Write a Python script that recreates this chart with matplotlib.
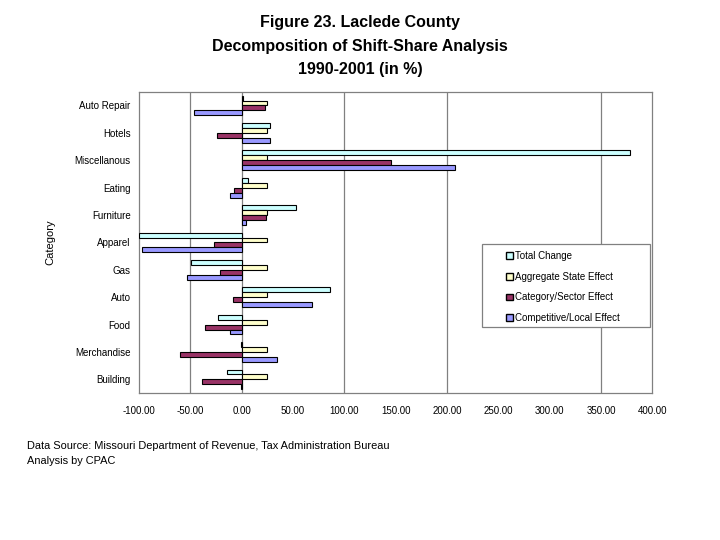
"""
Laclede County shift-share decomposition, 1990-2001, horizontal grouped bars.
"""

import matplotlib
matplotlib.use("Agg")
import matplotlib.pyplot as plt
from matplotlib.patches import Rectangle
import numpy as np

plt.rcParams["font.family"] = ["Liberation Sans", "DejaVu Sans"]

# categories listed bottom to top (matplotlib barh order)
categories = ["Building", "Merchandise", "Food", "Auto", "Gas", "Apparel",
              "Furniture", "Eating", "Miscellanous", "Hotels", "Auto Repair"]

total_change = [-14.0, -0.3, -22.7, 85.7, -49.0, -99.5, 52.5, 6.0, 378.0, 27.5, 1.5]
aggregate_state = [25.0, 25.0, 25.0, 25.0, 25.0, 25.0, 25.0, 25.0, 25.0, 25.0, 25.0]
category_sector = [-38.7, -60.0, -36.0, -8.0, -21.0, -27.0, 23.7, -7.5, 145.0, -24.0, 22.5]
competitive_local = [-0.3, 34.7, -11.4, 69.0, -53.0, -97.4, 4.2, -11.4, 208.0, 27.5, -46.0]

series = [
    ("Total Change", total_change, "#ccffff"),
    ("Aggregate State Effect", aggregate_state, "#ffffcc"),
    ("Category/Sector Effect", category_sector, "#993366"),
    ("Competitive/Local Effect", competitive_local, "#9999ff"),
]

x_ticks = np.arange(-100, 401, 50)
grid_at = [-50, 100, 200, 350]

fig = plt.figure(figsize=(7.2, 5.4), dpi=100)
ax = fig.add_axes([0.193, 0.272, 0.713, 0.558])

y = np.arange(len(categories))
h = 0.18
offsets = [1.5 * h, 0.5 * h, -0.5 * h, -1.5 * h]
for (label, vals, color), off in zip(series, offsets):
    ax.barh(y + off, vals, height=h, color=color, edgecolor="black",
            linewidth=0.8, label=label, zorder=3)

for g in grid_at:
    ax.axvline(g, color="#808080", linewidth=0.9, zorder=1)
ax.axvline(0, color="#808080", linewidth=0.9, zorder=2)

ax.set_xlim(-100, 400)
ax.set_ylim(-0.5, len(categories) - 0.5)
ax.set_xticks(x_ticks)
ax.set_xticklabels([f"{v:.2f}" for v in x_ticks], fontsize=7)
ax.set_yticks(y)
ax.set_yticklabels(categories, fontsize=7)
ax.tick_params(axis="x", length=0, pad=9)
ax.tick_params(axis="y", length=0, pad=6)
for s in ax.spines.values():
    s.set_color("#808080")
    s.set_linewidth(0.9)

ax.set_ylabel("Category", fontsize=8, labelpad=14)

# legend box spans to the right edge of the plot
box = Rectangle((482 / 720, 1 - 327 / 540), (650 - 482) / 720, (327 - 244) / 540,
                transform=fig.transFigure, facecolor="white", edgecolor="#808080",
                linewidth=0.9, zorder=5)
fig.add_artist(box)
handles, labels = ax.get_legend_handles_labels()
leg = fig.legend(handles, labels, loc="upper left", bbox_to_anchor=(503 / 720, 1 - 248 / 540),
                 fontsize=7, frameon=False, handlelength=0.7, handleheight=0.7,
                 handletextpad=0.25, labelspacing=1.1, borderpad=0.3, borderaxespad=0)
leg.set_zorder(6)
for patch in leg.get_patches():
    patch.set_linewidth(1.0)

fig.text(0.5, 0.972, "Figure 23. Laclede County\nDecomposition of Shift-Share Analysis\n1990-2001 (in %)",
         ha="center", va="top", fontsize=11.5, fontweight="bold", linespacing=1.72)

fig.text(0.037, 0.184, "Data Source: Missouri Department of Revenue, Tax Administration Bureau\nAnalysis by CPAC",
         ha="left", va="top", fontsize=7.9, linespacing=1.65)

fig.savefig("out.png", dpi=100)
